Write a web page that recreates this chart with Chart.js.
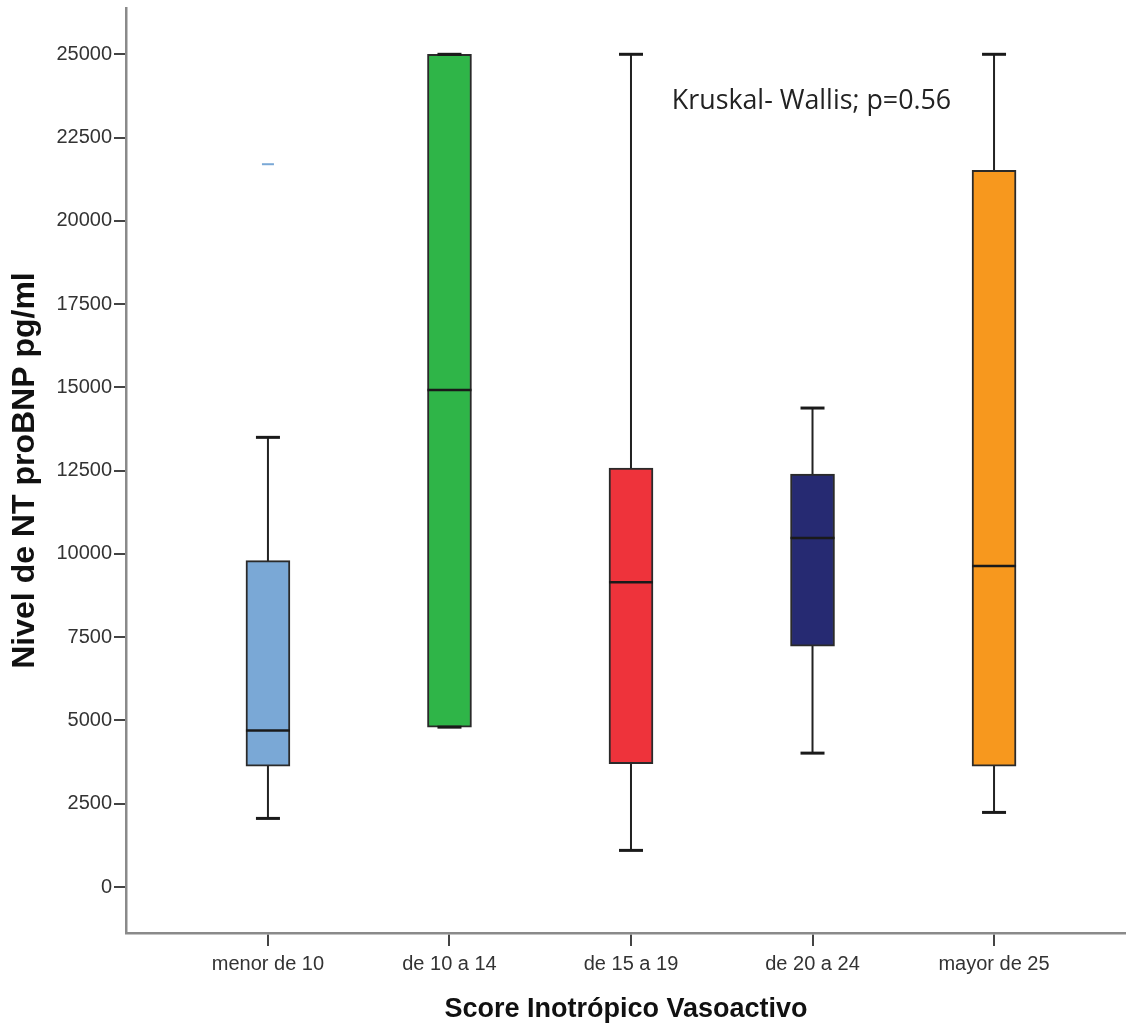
<!DOCTYPE html>
<html lang="es">
<head>
<meta charset="UTF-8">
<title>NT proBNP por Score Inotrópico Vasoactivo</title>
<script src="https://cdn.jsdelivr.net/npm/chart.js"></script>
<style>
  html, body { margin: 0; padding: 0; background: #fff; }
  #wrap { width: 1126px; height: 1035px; position: relative; }
</style>
</head>
<body>
<div id="wrap"><canvas id="boxChart"></canvas></div>
<script>
    // datos (pg/ml)
    const categories = ['menor de 10', 'de 10 a 14', 'de 15 a 19', 'de 20 a 24', 'mayor de 25'];
    const whiskerMin = [2060, 4800, 1100, 4020, 2240];
    const q1 = [3630, 4800, 3700, 7230, 3630];
    const median = [4700, 14920, 9150, 10480, 9640];
    const q3 = [9800, 25000, 12580, 12400, 21520];
    const whiskerMax = [13500, 25000, 25000, 14380, 25000];
    const outlierCat = [0];
    const outlierVal = [21700];
    const boxColors = ['#7aa8d6', '#2fb548', '#ee333b', '#262a72', '#f7981e'];
    const yTicks = [0, 2500, 5000, 7500, 10000, 12500, 15000, 17500, 20000, 22500, 25000];
    const note = { text: 'Kruskal- Wallis; p=0.56', x: 2.225, y: 23580 };

    const font = '"Liberation Sans", Arial, sans-serif';

    const boxPlugin = {
        id: 'boxParts',
        beforeDatasetsDraw(chart) {
            // bigotes detrás de las cajas
            const xs = chart.scales.x, ys = chart.scales.y, ctx = chart.ctx;
            ctx.save();
            ctx.strokeStyle = '#222';
            ctx.lineWidth = 2;
            categories.forEach((c, i) => {
                const px = xs.getPixelForValue(i);
                ctx.beginPath();
                ctx.moveTo(px, ys.getPixelForValue(whiskerMax[i]));
                ctx.lineTo(px, ys.getPixelForValue(whiskerMin[i]));
                ctx.stroke();
            });
            ctx.restore();
        },
        afterDatasetsDraw(chart) {
            const xs = chart.scales.x, ys = chart.scales.y, ctx = chart.ctx;
            const boxes = chart.getDatasetMeta(0).data;
            ctx.save();
            ctx.strokeStyle = '#1a1a1a';
            categories.forEach((c, i) => {
                const px = xs.getPixelForValue(i);
                const half = boxes[i].width / 2;
                // mediana
                ctx.lineWidth = 2.5;
                const my = ys.getPixelForValue(median[i]);
                ctx.beginPath();
                ctx.moveTo(px - half, my);
                ctx.lineTo(px + half, my);
                ctx.stroke();
                // topes de los bigotes
                ctx.lineWidth = 3;
                [whiskerMax[i], whiskerMin[i]].forEach(v => {
                    const wy = ys.getPixelForValue(v);
                    ctx.beginPath();
                    ctx.moveTo(px - 12, wy);
                    ctx.lineTo(px + 12, wy);
                    ctx.stroke();
                });
            });
            // texto de la prueba
            ctx.fillStyle = '#222';
            ctx.font = '26.8px "Open Sans", "Noto Sans", sans-serif';
            ctx.textAlign = 'left';
            ctx.textBaseline = 'middle';
            ctx.fillText(note.text, xs.getPixelForValue(note.x), ys.getPixelForValue(note.y));
            ctx.restore();
        }
    };

    const ctx = document.getElementById('boxChart').getContext('2d');
    new Chart(ctx, {
        type: 'bar',
        data: {
            datasets: [
                {
                    type: 'bar',
                    data: categories.map((c, i) => ({ x: i, y: [q1[i], q3[i]] })),
                    backgroundColor: boxColors,
                    borderColor: '#2a2a2a',
                    borderWidth: 2,
                    borderSkipped: false,
                    barThickness: 44
                },
                {
                    type: 'scatter',
                    data: outlierCat.map((c, i) => ({ x: c, y: outlierVal[i] })),
                    pointStyle: 'line',
                    radius: 6,
                    borderColor: '#7aa8d6',
                    borderWidth: 2
                }
            ]
        },
        options: {
            responsive: true,
            maintainAspectRatio: false,
            animation: false,
            layout: { autoPadding: false, padding: { top: 8, right: 0, left: 0, bottom: 0 } },
            plugins: { legend: { display: false }, tooltip: { enabled: false } },
            scales: {
                x: {
                    type: 'linear',
                    min: -0.782,
                    max: 4.727,
                    offset: false,
                    afterBuildTicks: axis => { axis.ticks = categories.map((c, i) => ({ value: i })); },
                    afterFit: axis => { axis.height = 102; },
                    ticks: {
                        callback: v => categories[v],
                        color: '#333',
                        font: { family: font, size: 20 },
                        padding: 6,
                        maxRotation: 0,
                        autoSkip: false
                    },
                    grid: { drawOnChartArea: false, offset: false, tickLength: 13, color: '#444', lineWidth: 2 },
                    border: { color: '#8a8a8a', width: 2.5 },
                    title: {
                        display: true,
                        text: 'Score Inotrópico Vasoactivo',
                        color: '#111',
                        font: { family: font, size: 27, weight: 'bold' },
                        padding: { top: 0, bottom: 9 }
                    }
                },
                y: {
                    min: -1380,
                    max: 26390,
                    afterBuildTicks: axis => { axis.ticks = yTicks.map(v => ({ value: v })); },
                    afterFit: axis => {
                        axis.width = 126;
                        axis.paddingTop = 0;
                        axis.paddingBottom = 0;
                    },
                    ticks: {
                        callback: v => String(v),
                        color: '#333',
                        font: { family: font, size: 20 },
                        padding: 2
                    },
                    grid: { drawOnChartArea: false, tickLength: 12, color: '#444', lineWidth: 2 },
                    border: { color: '#8a8a8a', width: 2.5 },
                    title: {
                        display: true,
                        text: 'Nivel de NT proBNP pg/ml',
                        color: '#111',
                        font: { family: font, size: 32, weight: 'bold' },
                        padding: { top: 6, bottom: 0 }
                    }
                }
            }
        },
        plugins: [boxPlugin]
    });
</script>
</body>
</html>
